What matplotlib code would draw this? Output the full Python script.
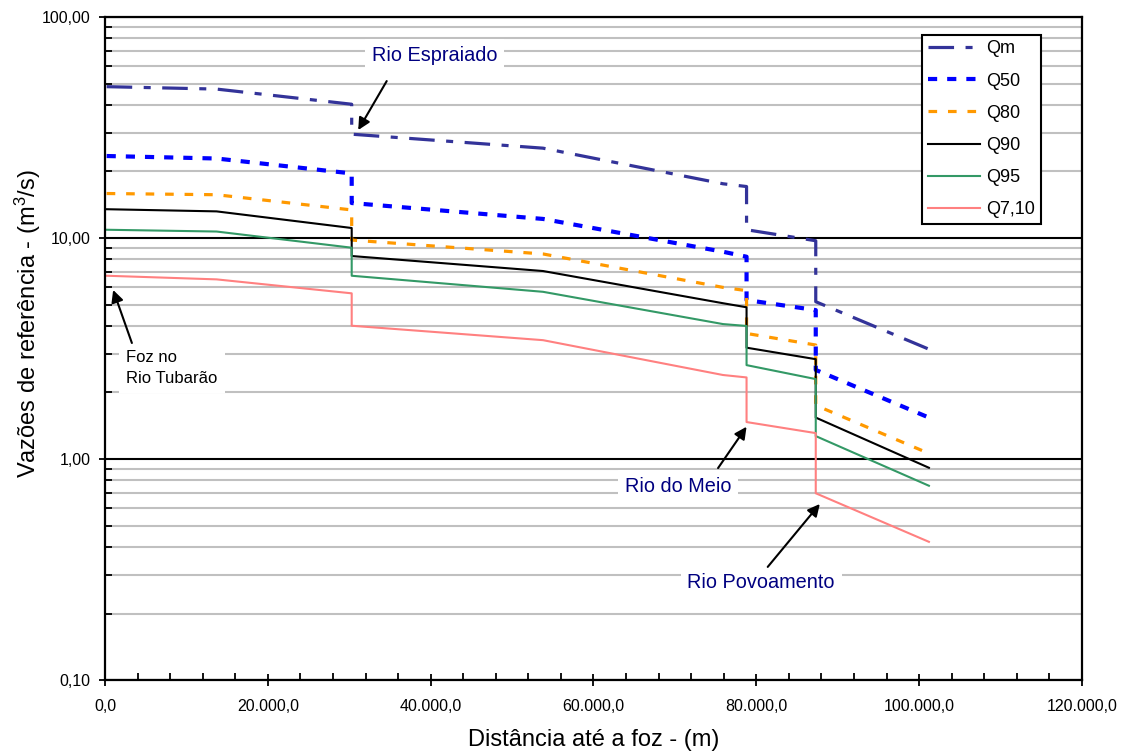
import numpy as np
import matplotlib
matplotlib.use("Agg")
import matplotlib.pyplot as plt
from matplotlib.ticker import FixedLocator, FuncFormatter, LogLocator, NullFormatter

plt.rcParams['font.family'] = ['Liberation Sans', 'DejaVu Sans']
plt.rcParams['mathtext.default'] = 'regular'

#%% dados
dist = [200, 13700, 30300, 30300, 53800, 75900, 78800, 78800, 87300, 87300, 101200]
qm   = [48.4, 47.2, 40.3, 29.5, 25.5, 17.6, 17.1, 10.9, 9.72, 5.15, 3.14]
q50  = [23.5, 22.9, 19.6, 14.4, 12.2, 8.67, 8.23, 5.24, 4.72, 2.53, 1.54]
q80  = [15.9, 15.7, 13.4, 9.79, 8.47, 5.98, 5.78, 3.70, 3.28, 1.75, 1.06]
q90  = [13.5, 13.2, 11.1, 8.29, 7.09, 5.07, 4.86, 3.19, 2.83, 1.54, 0.913]
q95  = [10.9, 10.7, 9.04, 6.75, 5.71, 4.08, 4.00, 2.66, 2.30, 1.27, 0.757]
q710 = [6.75, 6.50, 5.62, 4.01, 3.45, 2.40, 2.34, 1.47, 1.31, 0.700, 0.422]

nomes = ['Qm', 'Q50', 'Q80', 'Q90', 'Q95', 'Q7,10']

#%% figura
fig = plt.figure(figsize=(11.28, 7.53), dpi=100)
ax = fig.add_axes([0.0931, 0.0969, 0.8661, 0.8805])

ax.plot(dist, qm, color='#333399', lw=2.3, dashes=(8, 3.6, 2.2, 3.6), label=nomes[0])
ax.plot(dist, q50, color='#0000FF', lw=3.0, dashes=(2.2, 2.4), label=nomes[1])
ax.plot(dist, q80, color='#FF9900', lw=2.3, dashes=(2.7, 3.4), label=nomes[2])
ax.plot(dist, q90, color='black', lw=1.5, label=nomes[3])
ax.plot(dist, q95, color='#339966', lw=1.5, label=nomes[4])
ax.plot(dist, q710, color='#FF8080', lw=1.5, label=nomes[5])

ax.set_yscale('log')
ax.set_xlim(0, 120000)
ax.set_ylim(0.1, 100)

#%% eixos e grade
ax.xaxis.set_major_locator(FixedLocator(np.arange(0, 120001, 20000)))
ax.xaxis.set_minor_locator(FixedLocator(np.arange(0, 120001, 4000)))
ax.xaxis.set_major_formatter(FuncFormatter(
    lambda v, p: '{:,.1f}'.format(v).replace(',', 'X').replace('.', ',').replace('X', '.')))
ax.yaxis.set_major_locator(FixedLocator([0.1, 1, 10, 100]))
ax.yaxis.set_minor_locator(LogLocator(base=10, subs=np.arange(2, 10)))
ax.yaxis.set_minor_formatter(NullFormatter())
ax.yaxis.set_major_formatter(FuncFormatter(lambda v, p: '{:.2f}'.format(v).replace('.', ',')))

ax.yaxis.grid(True, which='minor', color='#c0c0c0', lw=1.5, zorder=0)
ax.yaxis.grid(True, which='major', color='black', lw=1.5, zorder=0)
ax.set_axisbelow(True)

for s in ax.spines.values():
    s.set_linewidth(1.6)
ax.tick_params(axis='both', which='major', direction='inout', length=8, width=1.3, labelsize=11.5)
ax.tick_params(axis='both', which='minor', direction='in', length=5, width=1.3)
ax.tick_params(axis='x', which='major', pad=9.5)
ax.tick_params(axis='y', which='major', pad=6.5)

ax.set_xlabel('Distância até a foz - (m)', fontsize=17)
ax.set_ylabel('Vazões de referência - (m$^3$/s)', fontsize=17)
ax.xaxis.set_label_coords(0.5, -0.074)
ax.yaxis.set_label_coords(-0.0635, 0.538)

#%% legenda
leg = ax.legend(loc='upper right', bbox_to_anchor=(0.9577, 0.9729), fontsize=13,
                handlelength=2.9, handletextpad=0.35, labelspacing=0.84, borderpad=0.3,
                borderaxespad=0, fancybox=False, framealpha=1, edgecolor='black')
leg.get_frame().set_linewidth(1.5)

#%% anotacoes
caixa = dict(facecolor='white', edgecolor='none', pad=5)
seta = dict(arrowstyle='-|>', color='black', lw=1.5, mutation_scale=18, shrinkA=0, shrinkB=0)

ax.text(40500, 67.3, 'Rio Espraiado', color='#000080', fontsize=14.3,
        ha='center', va='center', bbox=caixa, zorder=5)
ax.annotate('', xy=(31100, 30.8), xytext=(34600, 51.3), arrowprops=seta, zorder=6)

ax.text(2600, 2.58, 'Foz no\nRio Tubarão', color='black', fontsize=12,
        ha='left', va='center', linespacing=1.55, bbox=caixa, zorder=5)
ax.annotate('', xy=(1000, 5.82), xytext=(3300, 3.35), arrowprops=seta, zorder=6)

ax.text(70400, 0.755, 'Rio do Meio', color='#000080', fontsize=14.3,
        ha='center', va='center', bbox=caixa, zorder=5)
ax.annotate('', xy=(78800, 1.40), xytext=(75300, 0.91), arrowprops=seta, zorder=6)

ax.text(80600, 0.275, 'Rio Povoamento', color='#000080', fontsize=14.3,
        ha='center', va='center', bbox=caixa, zorder=5)
ax.annotate('', xy=(87800, 0.626), xytext=(81400, 0.325), arrowprops=seta, zorder=6)

fig.savefig('out.png', dpi=100)
